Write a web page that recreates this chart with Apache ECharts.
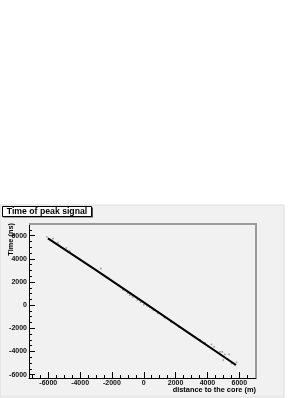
<!DOCTYPE html>
<html>
<head>
<meta charset="utf-8">
<script src="https://cdn.jsdelivr.net/npm/echarts@6/dist/echarts.min.js"></script>
<style>
html,body{margin:0;padding:0;background:#fff;}
#c{width:307px;height:398px;}
</style>
</head>
<body>
<div id="c"></div>
<script>
// Axis ranges and tick labels
const xRange = [-7210, 7050];
const yRange = [-6290, 7010];
const xMajor = [-6000, -4000, -2000, 0, 2000, 4000, 6000];
const yMajor = [-6000, -4000, -2000, 0, 2000, 4000, 6000];
const xMinor = [-7000, -6500, -5500, -5000, -4500, -3500, -3000, -2500, -1500, -1000, -500, 500, 1000, 1500, 2500, 3000, 3500, 4500, 5000, 5500, 6500, 7000];
const yMinor = [-5500, -5000, -4500, -3500, -3000, -2500, -1500, -1000, -500, 500, 1000, 1500, 2500, 3000, 3500, 4500, 5000, 5500, 6500];

// Main band of points (distance, time)
const lineDist = [-6020, -3000, 0, 3000, 5790];
const lineTime = [5770, 3020, 240, -2560, -5165];

// Scattered points off the band
const dotDist = [-6080, -5700, -5390, -4860, -4650, -2700, -1300, -1000, -880, -700, -400, -200, 0, 200, 377, 600, 900, 1300, 1700, 2200, 3520, 3840, 4260, 4420, 4780, 4930, 5090, 5370, 4990, 5520, 5830, 5720];
const dotTime = [5890, 5750, 5405, 4940, 4655, 3160, 1320, 1040, 862, 700, 450, 250, 30, -50, -147, -420, -700, -1080, -1430, -1900, -3020, -3250, -3390, -3600, -4030, -4030, -4250, -4250, -4740, -5030, -4940, -5170];

const FONT = 'Liberation Sans, Arial, Helvetica, sans-serif';

const chart = echarts.init(document.getElementById('c'), null, {renderer: 'canvas'});

function mkAxis(range, major, minor, isX) {
  return [
    {
      type: 'value', min: range[0], max: range[1],
      position: isX ? 'bottom' : 'left',
      axisLine: {show: true, onZero: false, lineStyle: {color: '#000', width: 1}},
      axisTick: {show: true, inside: true, length: 6, customValues: major, lineStyle: {color: '#000', width: 1}},
      axisLabel: {show: true, customValues: major, margin: 2, fontSize: 7, fontWeight: 'bold', color: '#111', fontFamily: FONT,
        formatter: function (v) { return String(v); }},
      splitLine: {show: false}
    },
    {
      type: 'value', min: range[0], max: range[1],
      position: isX ? 'bottom' : 'left',
      axisLine: {show: false, onZero: false},
      axisTick: {show: true, inside: true, length: 3, customValues: minor, lineStyle: {color: '#000', width: 1}},
      axisLabel: {show: false},
      splitLine: {show: false}
    }
  ];
}

const option = {
  animation: false,
  backgroundColor: '#ffffff',
  grid: {left: 29, top: 224, width: 227, height: 154, show: true, backgroundColor: '#f1f1f1', borderWidth: 0},
  xAxis: mkAxis(xRange, xMajor, xMinor, true),
  yAxis: mkAxis(yRange, yMajor, yMinor, false),
  series: [
    {
      type: 'scatter', xAxisIndex: 0, yAxisIndex: 0,
      data: dotDist.map((d, i) => [d, dotTime[i]]),
      symbol: 'rect', symbolSize: 1.6,
      itemStyle: {color: '#8a8a8a'},
      silent: true, z: 2
    },
    {
      type: 'line', xAxisIndex: 0, yAxisIndex: 0,
      data: lineDist.map((d, i) => [d, lineTime[i]]),
      showSymbol: false, symbol: 'none',
      lineStyle: {color: '#000', width: 2},
      silent: true, z: 3
    }
  ],
  graphic: [
    {type: 'rect', z: -10, shape: {x: 0, y: 205, width: 284, height: 192}, style: {fill: '#f1f1f1', stroke: '#dcdcdc', lineWidth: 1}},
    {type: 'line', z: 50, shape: {x1: 29, y1: 224, x2: 257, y2: 224}, style: {stroke: '#9a9a9a', lineWidth: 2}},
    {type: 'line', z: 50, shape: {x1: 256, y1: 223, x2: 256, y2: 378}, style: {stroke: '#9a9a9a', lineWidth: 2}},
    {type: 'rect', z: 50, shape: {x: 3, y: 207.5, width: 90, height: 10}, style: {fill: '#555', stroke: null}},
    {type: 'rect', z: 51, shape: {x: 2.5, y: 206.5, width: 89, height: 10}, style: {fill: '#ffffff', stroke: '#000', lineWidth: 1}},
    {type: 'text', z: 52, style: {x: 47, y: 212, text: 'Time of peak signal', fontSize: 8.7, fontWeight: 'bold', fontFamily: FONT, fill: '#000', align: 'center', verticalAlign: 'middle'}},
    {type: 'text', z: 52, x: 10.5, y: 223, rotation: Math.PI / 2, style: {x: 0, y: 0, text: 'Time (ns)', fontSize: 7.4, fontWeight: 'bold', fontFamily: FONT, fill: '#000', align: 'right', verticalAlign: 'middle'}},
    {type: 'text', z: 52, style: {x: 256, y: 390, text: 'distance to the core (m)', fontSize: 7.4, fontWeight: 'bold', fontFamily: FONT, fill: '#000', align: 'right', verticalAlign: 'middle'}}
  ]
};
chart.setOption(option);
</script>
</body>
</html>
